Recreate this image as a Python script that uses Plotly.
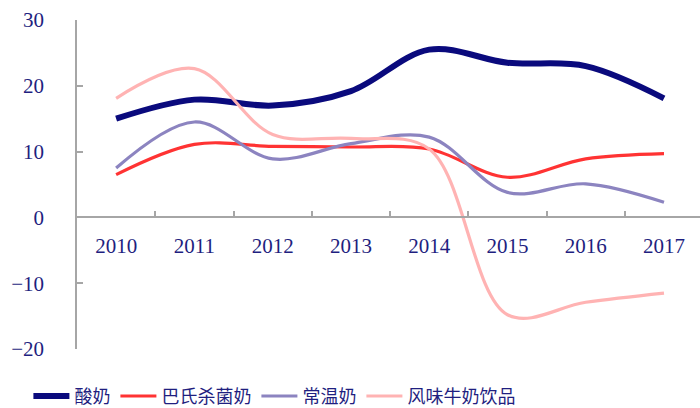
import plotly.graph_objects as go

years = ["2010", "2011", "2012", "2013", "2014", "2015", "2016", "2017"]
yogurt = [15.0, 17.9, 17.0, 19.2, 25.5, 23.5, 23.0, 18.1]
pasteurized = [6.5, 11.1, 10.8, 10.7, 10.4, 6.1, 8.9, 9.7]
ambient = [7.5, 14.5, 8.9, 11.2, 12.2, 3.8, 5.1, 2.3]
flavored = [18.1, 22.6, 12.6, 12.0, 10.4, -14.8, -12.9, -11.5]

series = [
    ("酸奶", yogurt, "#0a0a7d", 6),
    ("巴氏杀菌奶", pasteurized, "#ff3333", 3.2),
    ("常温奶", ambient, "#8c84c0", 3.2),
    ("风味牛奶饮品", flavored, "#ffb3b3", 3.2),
]

fig = go.Figure()
for name, vals, color, width in series:
    fig.add_trace(go.Scatter(
        x=years, y=vals, name=name, mode="lines",
        line=dict(color=color, width=width, shape="spline", smoothing=1.0),
    ))

tick_font = dict(family="Liberation Serif, Times New Roman, serif", size=21, color="#1f1f80")

fig.update_layout(
    width=700, height=408,
    margin=dict(l=77, r=0, t=20, b=59, autoexpand=False),
    paper_bgcolor="white", plot_bgcolor="white",
    showlegend=True,
    legend=dict(
        orientation="h", x=-0.078, xanchor="left", y=-0.2, yanchor="bottom",
        font=dict(family="Noto Sans CJK SC", size=18, color="#1f1f80"),
        itemwidth=36, tracegroupgap=0, borderwidth=0,
    ),
    xaxis=dict(
        type="category", range=[-0.5, 7.46],
        anchor="free", position=0.4,
        showline=True, linecolor="#a6a6a6", linewidth=1.5,
        ticks="inside", ticklen=6, tickcolor="#a6a6a6", tickwidth=1.5,
        tickson="boundaries",
        showgrid=False, zeroline=False,
        tickfont=tick_font, ticklabelstandoff=10,
    ),
    yaxis=dict(
        range=[-20, 30], tickvals=[-20, -10, 0, 10, 20, 30],
        showline=True, linecolor="#a6a6a6", linewidth=1.5,
        ticks="inside", ticklen=6, tickcolor="#a6a6a6", tickwidth=1.5,
        showgrid=False, zeroline=False,
        tickfont=tick_font, ticklabelstandoff=27,
    ),
)

fig.write_html("out.html")
